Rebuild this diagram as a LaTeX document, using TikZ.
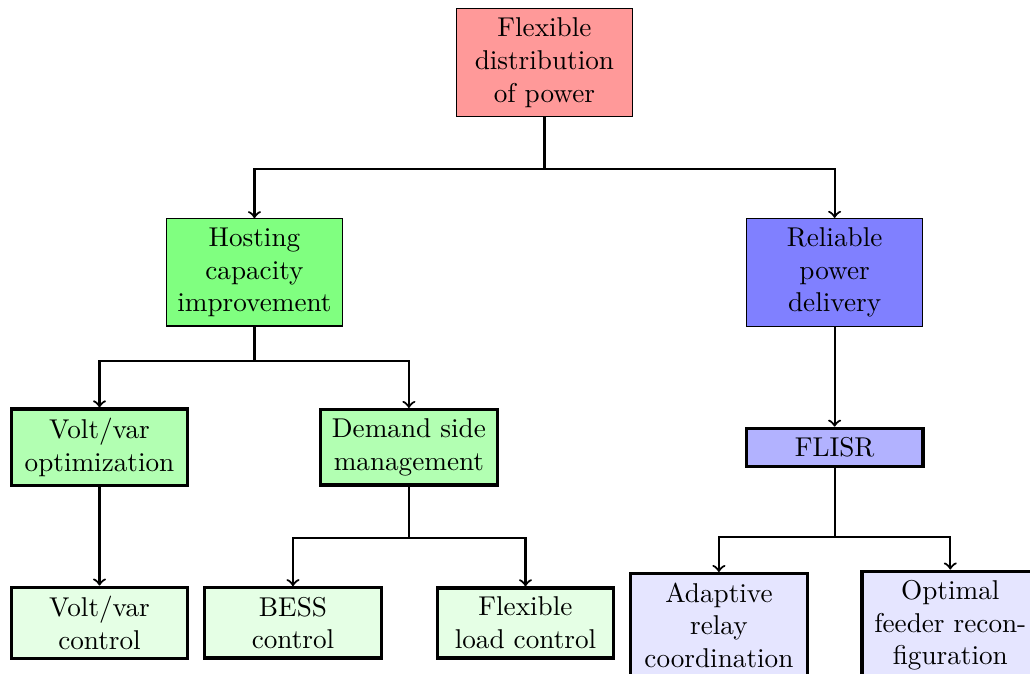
\documentclass[tikz,border=0pt]{standalone}
\usetikzlibrary{calc}
\newcommand*{\pw  }{13.31}
\newcommand*{\ph  }{8.70}
\newcommand*{\boxw}{2cm}
\newcommand*{\rowa}{-0.81}
\newcommand*{\rowb}{-3.52}
\newcommand*{\rowc}{-5.78}
\newcommand*{\rowd}{-8.05}

\begin{document}
\begin{tikzpicture}[
        blk/.style    = {draw, rectangle, text width=\boxw, inner xsep=4pt, align=center},
        subblk/.style = {blk, very thick},
        arr/.style    = {->, thick}]
    \useasboundingbox (0,0) rectangle (\pw,-\ph);
        % top
        \node [blk, fill=red!40]   (root)  at ( 7.035,\rowa) {Flexible distribution of power};
        % second row
        \node [blk, fill=green!50] (host)  at ( 3.288,\rowb) {Hosting capacity improvement};
        \node [blk, fill=blue!50]  (rel)   at (10.785,\rowb) {Reliable power delivery};
        % third row
        \node [subblk, fill=green!30] (vvo)   at ( 1.286,\rowc) {Volt/var optimization};
        \node [subblk, fill=green!30] (dsm)   at ( 5.284,\rowc) {Demand side management};
        \node [subblk, fill=blue!30]  (flisr) at (10.785,\rowc) {FLISR};
        % bottom row
        \node [subblk, fill=green!10] (vvc)   at ( 1.286,\rowd) {Volt/var control};
        \node [subblk, fill=green!10] (bess)  at ( 3.786,\rowd) {BESS control};
        \node [subblk, fill=green!10] (flex)  at ( 6.79, \rowd) {Flexible load control};
        \node [subblk, fill=blue!10]  (relay) at ( 9.29, \rowd-0.03) {Adaptive relay coordination};
        \node [subblk, fill=blue!10]  (feed)  at (12.28, \rowd-0.03) {Optimal feeder recon-\\figuration};
        % connectors
        \draw [arr] (root.south)  -- ++(0,-0.67) -| (host.north);
        \draw [arr] (root.south)  -- ++(0,-0.67) -| (rel.north);
        \draw [arr] (host.south)  -- ++(0,-0.44) -| (vvo.north);
        \draw [arr] (host.south)  -- ++(0,-0.44) -| (dsm.north);
        \draw [arr] (rel.south)   -- (flisr.north);
        \draw [arr] (vvo.south)   -- (vvc.north);
        \draw [arr] (dsm.south)   -- ++(0,-0.66) -| (bess.north);
        \draw [arr] (dsm.south)   -- ++(0,-0.66) -| (flex.north);
        \draw [arr] (flisr.south) -- ++(0,-0.89) -| (relay.north);
        \draw [arr] (flisr.south) -- ++(0,-0.89) -| (feed.north);
        %\draw [help lines] (0,0) grid (\pw,-\ph);
    \end{tikzpicture}
\end{document}
